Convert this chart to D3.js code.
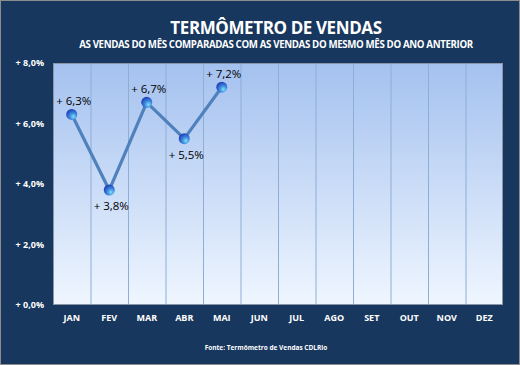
<!DOCTYPE html>
<html><head><meta charset="utf-8">
<script src="https://cdn.jsdelivr.net/npm/d3@7"></script>
<style>html,body{margin:0;padding:0;background:#17375e;}svg{display:block;}</style>
</head><body>
<svg id="c" width="520" height="365"></svg>
<script>
const months = ["JAN","FEV","MAR","ABR","MAI","JUN","JUL","AGO","SET","OUT","NOV","DEZ"];
const values = [6.3, 3.8, 6.7, 5.5, 7.2];
const labels = ["+ 6,3%","+ 3,8%","+ 6,7%","+ 5,5%","+ 7,2%"];
const labelPos = ["above","below","above","below","above"];
const yTicks = [0, 2, 4, 6, 8];
const yTickLabels = ["+ 0,0%","+ 2,0%","+ 4,0%","+ 6,0%","+ 8,0%"];

const svg = d3.select("#c");
const W = 520, H = 365;
const font = "Open Sans, Liberation Sans, sans-serif";

svg.append("rect").attr("x",0.5).attr("y",0.5).attr("width",W-1).attr("height",H-1)
  .attr("fill","#17375e").attr("stroke","#8c8c8c").attr("stroke-width",1);

const defs = svg.append("defs");
const bg = defs.append("linearGradient").attr("id","bg").attr("x1",0).attr("y1",0).attr("x2",0).attr("y2",1);
bg.append("stop").attr("offset","0%").attr("stop-color","#a4c1ef");
bg.append("stop").attr("offset","100%").attr("stop-color","#eff6ff");
const mk = defs.append("radialGradient").attr("id","mk").attr("cx","65%").attr("cy","70%").attr("r","70%");
mk.append("stop").attr("offset","0%").attr("stop-color","#7fe0f5");
mk.append("stop").attr("offset","45%").attr("stop-color","#3f8be0");
mk.append("stop").attr("offset","100%").attr("stop-color","#1f3fb8");

const m = {l:53, r:503, t:63, b:305};
const x = d3.scaleBand().domain(months).range([m.l, m.r]).padding(0);
const y = d3.scaleLinear().domain([0,8]).range([m.b, m.t]);

svg.append("rect").attr("x",m.l).attr("y",m.t).attr("width",m.r-m.l).attr("height",m.b-m.t)
  .attr("fill","url(#bg)");

svg.append("g").selectAll("line").data(months.slice(1)).join("line")
  .attr("x1",d=>x(d)+0.5).attr("x2",d=>x(d)+0.5)
  .attr("y1",m.t).attr("y2",m.b)
  .attr("stroke","#8eaed6").attr("stroke-width",1);

svg.append("rect").attr("x",m.l+0.5).attr("y",m.t+0.5).attr("width",m.r-m.l-1).attr("height",m.b-m.t-1)
  .attr("fill","none").attr("stroke","#8a96a8").attr("stroke-width",1);

const yAxis = d3.axisLeft(y).tickValues(yTicks).tickSize(0).tickPadding(9)
  .tickFormat((d,i)=>yTickLabels[i]);
const ya = svg.append("g").attr("transform",`translate(${m.l},0)`).call(yAxis);
ya.select(".domain").remove();
ya.selectAll("text").attr("fill","#ffffff").attr("font-family",font).attr("font-weight","bold").attr("font-size","9px");

const xAxis = d3.axisBottom(x).tickSize(0).tickPadding(10);
const xa = svg.append("g").attr("transform",`translate(0,${m.b})`).call(xAxis);
xa.select(".domain").remove();
xa.selectAll("text").attr("fill","#ffffff").attr("font-family",font).attr("font-weight","bold").attr("font-size","9px");

const cx = (d,i)=>x(months[i]) + x.bandwidth()/2;
const line = d3.line().x((d,i)=>cx(d,i)).y(d=>y(d));
svg.append("path").datum(values).attr("d",line)
  .attr("fill","none").attr("stroke","#4f81bd").attr("stroke-width",3.2).attr("stroke-linejoin","round");

svg.append("g").selectAll("circle").data(values).join("circle")
  .attr("cx",cx).attr("cy",d=>y(d)).attr("r",5.5).attr("fill","url(#mk)");

svg.append("g").selectAll("text").data(values).join("text")
  .attr("x",(d,i)=>cx(d,i) + 2)
  .attr("y",(d,i)=>labelPos[i]==="above" ? y(d)-9 : y(d)+20)
  .attr("text-anchor","middle")
  .attr("font-family",font).attr("font-size","11.5px").attr("fill","#000")
  .text((d,i)=>labels[i]);

svg.append("text").attr("x",276).attr("y",34).attr("text-anchor","middle")
  .attr("font-family",font).attr("font-weight","bold").attr("font-size","17px").attr("fill","#fff")
  .attr("letter-spacing","-0.4px")
  .text("TERMÔMETRO DE VENDAS");
svg.append("text").attr("x",276).attr("y",48).attr("text-anchor","middle")
  .attr("font-family",font).attr("font-weight","bold").attr("font-size","9.7px").attr("fill","#fff")
  .attr("letter-spacing","-0.35px")
  .text("AS VENDAS DO MÊS COMPARADAS COM AS VENDAS DO MESMO MÊS DO ANO ANTERIOR");
svg.append("text").attr("x",266).attr("y",350).attr("text-anchor","middle")
  .attr("font-family",font).attr("font-weight","bold").attr("font-size","6.5px").attr("fill","#fff")
  .text("Fonte: Termômetro de Vendas CDLRio");
</script>
</body></html>
